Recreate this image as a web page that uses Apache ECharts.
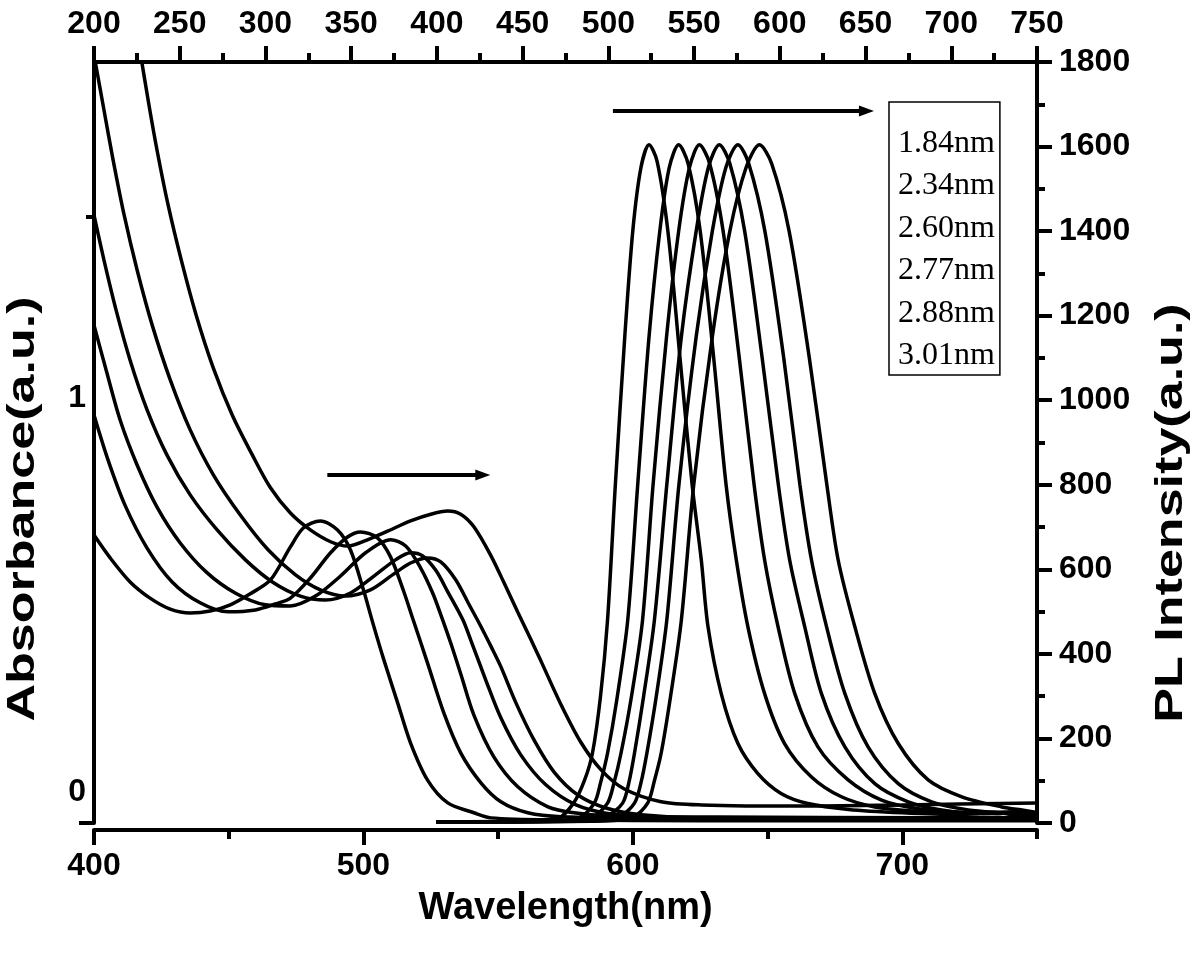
<!DOCTYPE html>
<html>
<head>
<meta charset="utf-8">
<script src="https://cdn.jsdelivr.net/npm/echarts@6/dist/echarts.min.js"></script>
<style>html,body{margin:0;padding:0;background:#fff}#c{width:1200px;height:957px}</style>
</head>
<body>
<div id="c"></div>
<script>
// ---- sizes (legend) ----
const sizes = ['1.84nm', '2.34nm', '2.60nm', '2.77nm', '2.88nm', '3.01nm'];

// ---- axis tick values ----
const bottomMajorTicks = [400, 500, 600, 700];
const bottomMinorTicks = [450, 550, 650, 750];
const absLabelValues = [0, 1];
const absTickValues = [-0.079];
const absMinorTickValues = [1.46];

// ---- axis titles ----
const xTitle = 'Wavelength(nm)';
const yLeftTitle = 'Absorbance(a.u.)';
const yRightTitle = 'PL Intensity(a.u.)';

// ---- absorbance spectra [wavelength nm, absorbance] ----
const abs184 = [[400,0.652],[406,0.594],[413.4,0.533],[420.8,0.492],[428.3,0.464],[435.7,0.454],[443.1,0.459],[450.6,0.475],[458,0.503],[465.5,0.538],[472.9,0.622],[477.7,0.670],[484,0.688],[490.4,0.665],[495.2,0.614],[500,0.513],[503.4,0.431],[507.5,0.337],[512.7,0.226],[517.5,0.124],[523.8,0.030],[531.3,-0.028],[541,-0.053],[547.3,-0.066],[573.3,-0.071],[625.4,-0.073],[750,-0.073]];
const abs234 = [[400,0.957],[405.2,0.843],[411.5,0.728],[419.7,0.619],[429,0.533],[439.4,0.480],[449.8,0.457],[459.9,0.462],[467.3,0.477],[472.9,0.492],[480.3,0.543],[487.8,0.607],[494.1,0.647],[498.9,0.660],[505.2,0.645],[510.1,0.596],[514.9,0.510],[518.3,0.440],[523.8,0.327],[529.8,0.201],[536.1,0.099],[543.6,0.023],[551,-0.025],[561,-0.053],[573.3,-0.063],[625.4,-0.069],[750,-0.069]];
const abs260 = [[400,1.185],[404.5,1.071],[409.7,0.944],[416,0.830],[423.4,0.723],[432,0.632],[441.7,0.558],[452.4,0.505],[463.6,0.475],[472.9,0.472],[482.2,0.497],[491.5,0.548],[500.8,0.607],[510.1,0.640],[515.7,0.624],[521.2,0.569],[525.7,0.505],[528.7,0.450],[532.4,0.378],[536.1,0.300],[541,0.195],[548.4,0.089],[557.3,0.013],[568.5,-0.038],[578.1,-0.053],[595.6,-0.063],[625.4,-0.066],[750,-0.066]];
const abs277 = [[400,1.464],[403.7,1.350],[408.2,1.223],[413.4,1.096],[419.7,0.970],[427.1,0.855],[435.7,0.754],[445.7,0.665],[456.2,0.589],[466.2,0.533],[476.6,0.497],[485.9,0.487],[495.2,0.505],[504.5,0.551],[511.9,0.589],[517.5,0.607],[522,0.599],[526.8,0.563],[531.3,0.508],[536.9,0.437],[539.8,0.386],[545.4,0.284],[551,0.188],[558.4,0.094],[567.7,0.018],[578.9,-0.033],[591.9,-0.056],[610.5,-0.063],[750,-0.066]];
const abs288 = [[400,1.871],[403.7,1.731],[407.1,1.604],[411.2,1.464],[416,1.325],[421.6,1.185],[428.3,1.046],[435.7,0.919],[444.3,0.805],[454.3,0.703],[464.7,0.614],[474.8,0.551],[484,0.513],[493.3,0.497],[502.6,0.513],[510.8,0.551],[517.5,0.581],[523.8,0.594],[528.7,0.584],[534.3,0.538],[539.1,0.477],[543.6,0.420],[547.3,0.370],[551,0.318],[556.6,0.226],[563.3,0.132],[570.7,0.051],[579.6,-0.008],[590,-0.041],[603.1,-0.058],[625.4,-0.066],[750,-0.066]];
const abs301 = [[416.4,1.909],[420.1,1.756],[423.4,1.629],[427.5,1.490],[432.4,1.350],[437.9,1.211],[444.3,1.076],[451.3,0.957],[458.8,0.855],[465.5,0.772],[472.9,0.708],[480.3,0.665],[487.8,0.635],[494.1,0.624],[502.6,0.643],[509,0.662],[517.5,0.688],[525,0.705],[531.3,0.713],[536.1,0.705],[541,0.673],[547.3,0.600],[552.1,0.532],[557.3,0.456],[562.2,0.386],[565.9,0.332],[573.3,0.222],[580.7,0.126],[588.2,0.056],[596.7,0.008],[610.5,-0.025],[625.4,-0.033],[662.6,-0.036],[699.8,-0.033],[750,-0.028]];

// ---- PL spectra [wavelength nm, PL intensity a.u.] ----
const pl184 = [[527,3],[560,4],[572,10],[578,47],[582,100],[585,165],[588,300],[590.6,480],[593.5,800],[597,1150],[600,1402],[603,1550],[606,1604],[609,1565],[613,1400],[617.5,1100],[622,800],[625.4,622],[627.9,464],[632.8,306],[639,188],[646.4,117],[655,70],[665,46],[680,32],[700,24],[720,20],[735,24],[745,14],[750,12]];
const pl234 = [[527,3],[570,5],[580,12],[585.7,47],[588,95],[590.6,165],[594,290],[598.1,480],[601.8,800],[606,1150],[610,1400],[613.5,1550],[617,1604],[620.5,1560],[625,1400],[630,1100],[634.6,800],[638.4,622],[642.7,464],[648.9,306],[656.3,188],[666.3,109],[677.4,62],[689.8,38],[705,28],[725,22],[740,26],[750,16]];
const pl260 = [[527,3],[575,5],[585,14],[590.6,47],[593,95],[595.6,165],[599.5,300],[603.6,480],[607.5,800],[612.5,1150],[617,1400],[621,1550],[624.7,1604],[628.5,1560],[633.5,1400],[639.5,1100],[645,800],[648.9,622],[653.9,464],[660.1,306],[668.7,180],[679.9,102],[692.3,54],[704.7,35],[720,26],[735,22],[745,28],[750,18]];
const pl277 = [[527,3],[580,5],[590,15],[596.2,47],[598.5,95],[600.6,165],[604,300],[608,480],[612.6,800],[618,1150],[623.5,1400],[628,1550],[632.1,1604],[636,1560],[641.5,1400],[648,1100],[654,800],[658.2,622],[663.8,464],[670,306],[678.7,180],[689.8,93],[702.2,50],[714.6,31],[730,22],[742,26],[750,15]];
const pl288 = [[527,3],[585,5],[595,15],[600.6,47],[603,95],[605.2,165],[608.7,300],[612.6,480],[617.1,800],[623.5,1150],[629.5,1400],[634.5,1550],[639,1604],[643,1560],[649,1400],[656,1100],[662,800],[666.3,622],[671.9,464],[678.7,306],[687.3,180],[698.5,93],[710.9,50],[724.5,31],[738,24],[750,18]];
const pl301 = [[527,3],[590,5],[600,14],[605.5,47],[608,100],[610.5,165],[614,300],[618,480],[622.6,800],[629.5,1150],[636,1400],[642,1550],[647,1604],[651.5,1560],[658,1400],[665.5,1100],[672,800],[676.2,622],[682.4,464],[689.8,306],[698.5,188],[709.6,102],[722.1,62],[736.9,38],[745,30],[750,25]];

const absSeries = [abs184, abs234, abs260, abs277, abs288, abs301];
const plSeries = [pl184, pl234, pl260, pl277, pl288, pl301];

// ---- annotation arrows (wavelength, PL-scale) ----
const arrowAbs = [[486.6, 823], [544.3, 823]];
const arrowPL = [[592.6, 1684], [686.7, 1684]];

const FONT = 'Liberation Sans';
const black = '#000';
const lineW = 3.5;
const axisW = 4;

function mkSeries(name, data, yIdx, extra) {
  return Object.assign({
    name: name, type: 'line', data: data, xAxisIndex: 0, yAxisIndex: yIdx,
    symbol: 'none', smooth: 0.3, clip: true,
    lineStyle: { color: black, width: lineW }, itemStyle: { color: black },
    animation: false, silent: true
  }, extra || {});
}

const series = [];
absSeries.forEach((d, i) => series.push(mkSeries(sizes[i], d, 0)));
plSeries.forEach((d, i) => series.push(mkSeries(sizes[i], d, 1, i === 0 ? {
  markLine: {
    silent: true, animation: false,
    symbol: ['none', 'triangle'], symbolSize: [11, 15],
    lineStyle: { color: black, width: 4, type: 'solid' },
    label: { show: false },
    data: [
      [{ coord: arrowAbs[0] }, { coord: arrowAbs[1] }],
      [{ coord: arrowPL[0] }, { coord: arrowPL[1] }]
    ]
  }
} : {})));

const tickLabel = { color: black, fontSize: 32, fontWeight: 'bold', fontFamily: FONT };
const axLine = { show: true, onZero: false, lineStyle: { color: black, width: axisW } };
const plainNum = v => String(v);

const titleFont = 'bold 38px "Liberation Sans"';

const option = {
  animation: false,
  backgroundColor: '#fff',
  textStyle: { fontFamily: FONT },
  grid: { left: 94, right: 163, top: 62, bottom: 134, containLabel: false },
  legend: {
    data: sizes, orient: 'vertical', left: 889, top: 102,
    padding: [24, 5, 2, 3], itemGap: 8, itemWidth: 0, itemHeight: 0,
    borderColor: black, borderWidth: 1.5, selectedMode: false,
    itemStyle: { opacity: 0 }, lineStyle: { opacity: 0 },
    textStyle: { fontFamily: 'Liberation Serif', fontSize: 32, color: black, lineHeight: 34.5 }
  },
  graphic: [
    { type: 'text', x: 24, y: 509, rotation: Math.PI / 2, scaleX: 1.37, silent: true,
      style: { text: yLeftTitle, font: titleFont, fill: black, align: 'center', verticalAlign: 'middle' } },
    { type: 'text', x: 1172, y: 513, rotation: Math.PI / 2, scaleX: 1.37, silent: true,
      style: { text: yRightTitle, font: titleFont, fill: black, align: 'center', verticalAlign: 'middle' } }
  ],
  xAxis: [
    { type: 'value', position: 'bottom', min: 400, max: 750, offset: 7,
      axisLine: axLine,
      axisTick: { show: true, customValues: bottomMajorTicks, length: 15, lineStyle: { color: black, width: axisW } },
      axisLabel: Object.assign({ customValues: bottomMajorTicks, margin: 20, formatter: plainNum }, tickLabel),
      splitLine: { show: false },
      name: xTitle, nameLocation: 'middle', nameGap: 60,
      nameTextStyle: { color: black, fontSize: 38, fontWeight: 'bold', fontFamily: FONT } },
    { type: 'value', position: 'bottom', min: 400, max: 750, offset: 7,
      axisLine: { show: false, onZero: false },
      axisTick: { show: true, customValues: bottomMinorTicks, length: 9, lineStyle: { color: black, width: axisW } },
      axisLabel: { show: false }, splitLine: { show: false } },
    { type: 'value', position: 'top', min: 200, max: 750, interval: 50,
      axisLine: axLine,
      axisTick: { show: true, length: 16, lineStyle: { color: black, width: axisW } },
      minorTick: { show: true, splitNumber: 2, length: 9, lineStyle: { color: black, width: axisW } },
      axisLabel: Object.assign({ margin: 22, formatter: plainNum }, tickLabel),
      splitLine: { show: false } }
  ],
  yAxis: [
    { type: 'value', position: 'left', min: -0.079, max: 1.853,
      axisLine: axLine,
      axisTick: { show: true, customValues: absTickValues, length: 15, lineStyle: { color: black, width: axisW } },
      axisLabel: Object.assign({ customValues: absLabelValues, margin: 8, formatter: plainNum }, tickLabel),
      splitLine: { show: false } },
    { type: 'value', position: 'right', min: 0, max: 1800, interval: 200,
      axisLine: axLine,
      axisTick: { show: true, length: 15, lineStyle: { color: black, width: axisW } },
      minorTick: { show: true, splitNumber: 2, length: 8, lineStyle: { color: black, width: axisW } },
      axisLabel: Object.assign({ margin: 22, formatter: plainNum }, tickLabel),
      splitLine: { show: false } },
    { type: 'value', position: 'left', min: -0.079, max: 1.853,
      axisLine: { show: false, onZero: false },
      axisTick: { show: true, customValues: absMinorTickValues, length: 8, lineStyle: { color: black, width: axisW } },
      axisLabel: { show: false }, splitLine: { show: false } }
  ],
  series: series
};

const chart = echarts.init(document.getElementById('c'), null, { renderer: 'canvas' });
chart.setOption(option);
</script>
</body>
</html>
